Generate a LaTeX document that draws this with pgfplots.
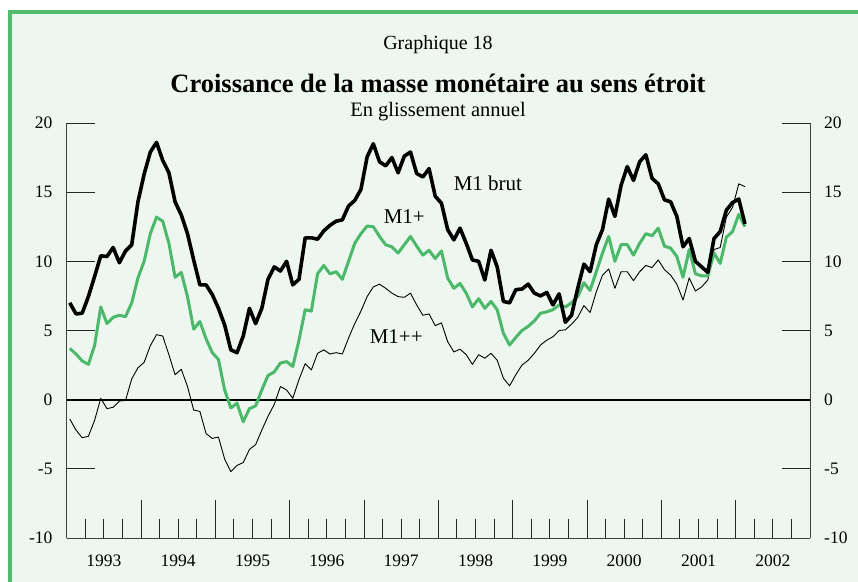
\documentclass[border=0pt]{standalone}
\usepackage{pgfplots}
\pgfplotsset{compat=1.18}
\usepackage{pgfplotstable}
\usepackage{fontspec}
\setmainfont{Liberation Serif}
\definecolor{bgmint}{RGB}{237,247,240}
\definecolor{frgreen}{RGB}{82,188,110}
\definecolor{lngreen}{RGB}{76,185,106}

\pgfplotstableread{
x brut plus pp
0.5 7.0 3.7 -1.4
1.5 6.2 3.3 -2.2
2.5 6.25 2.8 -2.75
3.5 7.45 2.55 -2.65
4.5 8.9 3.9 -1.5
5.5 10.4 6.7 0.1
6.5 10.35 5.5 -0.65
7.5 11.0 5.95 -0.55
8.5 9.9 6.1 -0.1
9.5 10.75 6.0 -0.05
10.5 11.2 7.0 1.5
11.5 14.3 8.8 2.3
12.5 16.3 10.0 2.7
13.5 17.9 12.0 3.9
14.5 18.6 13.2 4.7
15.5 17.3 12.9 4.6
16.5 16.4 11.3 3.25
17.5 14.3 8.85 1.8
18.5 13.35 9.2 2.2
19.5 12.0 7.45 0.95
20.5 10.1 5.1 -0.75
21.5 8.3 5.65 -0.85
22.5 8.3 4.4 -2.45
23.5 7.6 3.4 -2.8
24.5 6.6 2.9 -2.7
25.5 5.4 0.7 -4.3
26.5 3.6 -0.6 -5.2
27.5 3.4 -0.25 -4.75
28.5 4.6 -1.6 -4.55
29.5 6.6 -0.65 -3.6
30.5 5.5 -0.45 -3.25
31.5 6.6 0.7 -2.2
32.5 8.7 1.75 -1.2
33.5 9.6 2.0 -0.35
34.5 9.3 2.65 0.95
35.5 10.0 2.75 0.7
36.5 8.3 2.4 0.1
37.5 8.7 4.3 1.45
38.5 11.7 6.5 2.6
39.5 11.7 6.4 2.15
40.5 11.6 9.1 3.35
41.5 12.2 9.7 3.6
42.5 12.6 9.1 3.3
43.5 12.9 9.25 3.4
44.5 13.0 8.7 3.3
45.5 14.0 10.0 4.45
46.5 14.4 11.3 5.5
47.5 15.2 12.0 6.4
48.5 17.55 12.55 7.45
49.5 18.5 12.5 8.15
50.5 17.2 11.8 8.35
51.5 16.9 11.2 8.05
52.5 17.5 11.05 7.7
53.5 16.4 10.6 7.45
54.5 17.6 11.2 7.4
55.5 17.9 11.8 7.7
56.5 16.35 11.1 6.85
57.5 16.1 10.45 6.1
58.5 16.7 10.8 6.2
59.5 14.7 10.2 5.35
60.5 14.2 10.75 5.55
61.5 12.3 8.8 4.2
62.5 11.55 8.05 3.45
63.5 12.4 8.4 3.65
64.5 11.3 7.7 3.25
65.5 10.1 6.7 2.55
66.5 10.0 7.3 3.25
67.5 8.65 6.6 3.0
68.5 10.8 7.1 3.35
69.5 9.6 6.5 2.85
70.5 7.1 4.8 1.55
71.5 7.0 3.95 1.0
72.5 7.95 4.5 1.8
73.5 8.0 5.0 2.5
74.5 8.35 5.3 2.85
75.5 7.7 5.7 3.35
76.5 7.5 6.25 3.95
77.5 7.75 6.35 4.3
78.5 6.85 6.5 4.55
79.5 7.65 6.85 5.0
80.5 5.6 6.7 5.05
81.5 6.1 7.0 5.45
82.5 8.05 7.45 5.95
83.5 9.8 8.45 6.8
84.5 9.25 7.9 6.3
85.5 11.2 9.25 7.8
86.5 12.3 10.6 9.0
87.5 14.5 11.8 9.45
88.5 13.25 10.0 8.05
89.5 15.5 11.2 9.25
90.5 16.85 11.2 9.25
91.5 15.85 10.45 8.6
92.5 17.2 11.3 9.25
93.5 17.7 12.0 9.7
94.5 16.0 11.85 9.55
95.5 15.6 12.4 10.1
96.5 14.45 11.1 9.4
97.5 14.3 10.95 9.0
98.5 13.25 10.35 8.35
99.5 11.05 8.85 7.2
100.5 11.65 10.85 8.8
101.5 10.0 9.1 7.85
102.5 9.6 8.95 8.15
103.5 9.2 8.95 8.65
104.5 11.65 10.6 10.85
105.5 12.15 9.85 11.0
106.5 13.7 11.75 13.2
107.5 14.25 12.15 13.9
108.5 14.5 13.4 15.6
109.5 12.7 12.5 15.4
}\data

\pgfplotsset{
  base/.style={
    at={(66.7pt,43pt)}, anchor=south west, scale only axis,
    width=743.3pt, height=415pt,
    xmin=0, xmax=120, ymin=-10, ymax=20,
    axis line style={-, line width=0.9pt, black!75},
    tick style={line width=0.9pt, black!85},
    tick align=inside,
    ticklabel style={font=\fontsize{17.5}{20}\selectfont},
  }
}

\begin{document}
\begin{tikzpicture}[x=1pt,y=1pt]
\useasboundingbox (0,0) rectangle (858,581);
\fill[white] (0,0) rectangle (858,581);
\begin{scope}
\clip (0,0) rectangle (858,581);
\draw[frgreen, line width=4pt, fill=bgmint] (10.3,-20) rectangle (880,569);
\end{scope}
\node[anchor=base, font=\fontsize{20}{24}\selectfont] at (438,531) {Graphique 18};
\node[anchor=base, font=\fontsize{26.5}{30}\selectfont\bfseries] at (438,488) {Croissance de la masse monétaire au sens étroit};
\node[anchor=base, font=\fontsize{20.5}{24}\selectfont] at (438,464) {En glissement annuel};

% x ticks
\begin{axis}[base,
  axis y line=none, axis x line*=bottom,
  xtick={0,12,...,120}, minor x tick num=3, xticklabels={},
  major tick length=38pt, minor tick length=19pt,
]
\end{axis}

% right y axis
\begin{axis}[base,
  axis x line=none, axis y line*=right,
  ytick={-10,-5,...,20}, yticklabels={-10,-5,0,5,10,15,20},
  major tick length=28pt,
  yticklabel style={inner xsep=14pt},
]
\end{axis}

% main axis
\begin{axis}[base,
  axis x line*=bottom, axis y line*=left,
  ytick={-10,-5,...,20}, yticklabels={-10,-5,0,5,10,15,20},
  major tick length=28pt,
  yticklabel style={inner xsep=14pt},
  xtick={6,18,...,114},
  xticklabels={1993,1994,1995,1996,1997,1998,1999,2000,2001,2002},
  every major x tick/.append style={draw=none},
  xticklabel style={anchor=base, yshift=-28pt},
]
\addplot[black, line width=2pt] coordinates {(0,0) (120,0)};
\addplot[black, line width=0.9pt, line join=round] table[x=x,y=pp] {\data};
\addplot[lngreen, line width=3pt, line join=round] table[x=x,y=plus] {\data};
\addplot[black, line width=3.6pt, line join=round] table[x=x,y=brut] {\data};
\node[font=\fontsize{21}{24}\selectfont] at (axis cs:68,15.67) {M1 brut};
\node[font=\fontsize{21}{24}\selectfont] at (axis cs:54.5,13.2) {M1+};
\node[font=\fontsize{21}{24}\selectfont] at (axis cs:53.2,4.53) {M1++};
\end{axis}
\end{tikzpicture}
\end{document}
